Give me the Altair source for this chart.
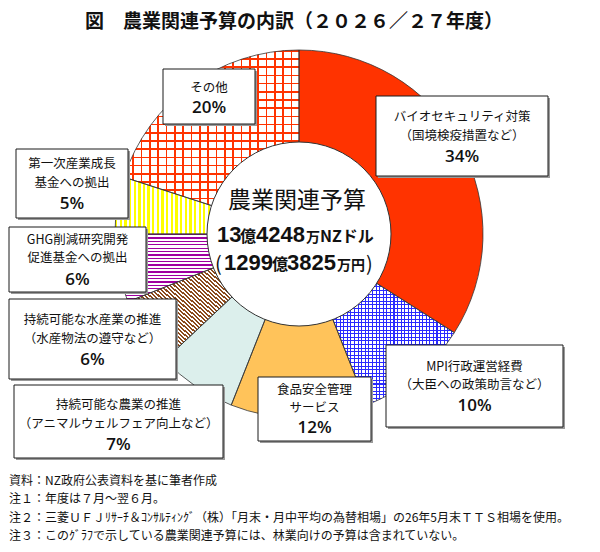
import math
import altair as alt
import pandas as pd

# ---------------- data ----------------
categories = [
    "バイオセキュリティ対策",
    "MPI行政運営経費",
    "食品安全管理サービス",
    "持続可能な農業の推進",
    "持続可能な水産業の推進",
    "GHG削減研究開発促進基金への拠出",
    "第一次産業成長基金への拠出",
    "その他",
]
percents = [34, 10, 12, 7, 6, 6, 5, 20]
label_lines = [
    ["バイオセキュリティ対策", "（国境検疫措置など）"],
    ["MPI行政運営経費", "（大臣への政策助言など）"],
    ["食品安全管理", "サービス"],
    ["持続可能な農業の推進", "（アニマルウェルフェア向上など）"],
    ["持続可能な水産業の推進", "（水産物法の遵守など）"],
    ["GHG削減研究開発", "促進基金への拠出"],
    ["第一次産業成長", "基金への拠出"],
    ["その他"],
]
title_text = "図　農業関連予算の内訳（２０２６／２７年度）"
center_title = "農業関連予算"
center_line2 = ["13", "億", "4248", "万", "NZドル"]
center_line3 = ["(", "1299", "億", "3825", "万円", ")"]
notes = [
    "資料：NZ政府公表資料を基に筆者作成",
    "注１：年度は７月～翌６月。",
    "注２：三菱ＵＦＪﾘｻｰﾁ＆ｺﾝｻﾙﾃｨﾝｸﾞ（株）「月末・月中平均の為替相場」の26年5月末ＴＴＳ相場を使用。",
    "注３：このｸﾞﾗﾌで示している農業関連予算には、林業向けの予算は含まれていない。",
]

# ---------------- layout (page pixel coordinates) ----------------
CX, CY = 299, 234
R_OUT, R_IN = 184, 91
boxes = [  # x, y, x2, y2
    (376, 96, 548, 176),
    (386, 345, 563, 427),
    (258, 377, 371, 441),
    (14, 385, 223, 458),
    (9, 299, 176, 379),
    (9, 227, 146, 292),
    (16, 149, 128, 218),
    (163, 69, 255, 124),
]
line_ys = [
    [117, 136, 157],
    [367, 385, 406],
    [390, 408, 428],
    [405, 424, 445],
    [320, 339, 360],
    [240, 258, 280],
    [164, 183, 204],
    [88, 108],
]
line2_x = [217, 240, 256, 306, 320]
line2_size = [22, 16, 22, 14, 16]
line3_x = [215, 224, 272, 287, 337, 366]
line3_size = [20, 22, 16, 22, 14, 20]
note_ys = [481, 499, 518, 536]

base_colors = ["#FF3300", "#FFFFFF", "#FFC35A", "#DCEFEC", "#FFFFFF", "#FFFFFF", "#FFFFFF", "#FFFFFF"]

W, H = 584, 536
XS = alt.Scale(domain=[8, 8 + W], nice=False, zero=False)
YS = alt.Scale(domain=[8, 8 + H], nice=False, zero=False, reverse=True)

# ---------------- tables ----------------
starts, ends, acc = [], [], 0
for p in percents:
    starts.append(acc)
    acc += p
    ends.append(acc)
slices = pd.DataFrame({"cat": categories, "pct": percents, "start": starts, "end": ends})

box_df = pd.DataFrame({
    "cat": categories,
    "x": [b[0] for b in boxes], "y": [b[1] for b in boxes],
    "x2": [b[2] for b in boxes], "y2": [b[3] for b in boxes],
})
box_df["sx"] = box_df["x"] + 2
box_df["sy"] = box_df["y"] + 2
box_df["sx2"] = box_df["x2"] + 2
box_df["sy2"] = box_df["y2"] + 2

lab_rows, pct_rows = [], []
for i, cat in enumerate(categories):
    cx = (boxes[i][0] + boxes[i][2]) / 2
    for j, t in enumerate(label_lines[i]):
        lab_rows.append({"x": cx, "y": line_ys[i][j], "t": t})
    pct_rows.append({"x": cx, "y": line_ys[i][-1], "t": f"{percents[i]}%"})
lab_df = pd.DataFrame(lab_rows)
pct_df = pd.DataFrame(pct_rows)

seg_rows = []
for t, x, s in zip(center_line2, line2_x, line2_size):
    seg_rows.append({"t": t, "x": x, "y": 242, "s": s})
for t, x, s in zip(center_line3, line3_x, line3_size):
    seg_rows.append({"t": t, "x": x, "y": 270, "s": s})
seg_df = pd.DataFrame(seg_rows)
digits_df = seg_df[seg_df["t"].str.match(r"^[0-9]+$")]
kanji_df = seg_df[~seg_df["t"].str.match(r"^[0-9()]+$")]
paren_df = seg_df[seg_df["t"].isin(["(", ")"])]

note_df = pd.DataFrame({"t": notes, "x": [9] * len(notes), "y": note_ys})

# ---------------- pattern helpers ----------------
CLEAR = "rgba(255,255,255,0)"


def stripes(color, n, frac, x1=0, y1=0, x2=1, y2=0):
    stops = []
    for i in range(n):
        a = i / n
        b = (i + frac) / n
        c = (i + 1) / n
        stops += [
            alt.GradientStop(offset=a, color=color),
            alt.GradientStop(offset=b, color=color),
            alt.GradientStop(offset=b, color=CLEAR),
            alt.GradientStop(offset=c, color=CLEAR),
        ]
    return alt.LinearGradient(gradient="linear", stops=stops, x1=x1, y1=y1, x2=x2, y2=y2)


theta = alt.Theta("start:Q", scale=alt.Scale(domain=[0, 100], range=[0, 2 * math.pi]), stack=None)
theta2 = alt.Theta2("end:Q")
pos = dict(x=alt.value(CX - 8), y=alt.value(CY - 8))

base = alt.Chart(slices).mark_arc(innerRadius=R_IN, outerRadius=R_OUT).encode(
    theta=theta, theta2=theta2,
    color=alt.Color("cat:N", scale=alt.Scale(domain=categories, range=base_colors), legend=None),
    **pos,
)


def pattern_layer(cat, grad):
    return alt.Chart(slices).transform_filter(alt.datum.cat == cat).mark_arc(
        innerRadius=R_IN, outerRadius=R_OUT, fill=grad
    ).encode(theta=theta, theta2=theta2, **pos)


patterns = [
    # MPI: blue grid
    pattern_layer(categories[1], stripes("#2a2aff", 34, 0.3)),
    pattern_layer(categories[1], stripes("#2a2aff", 34, 0.3, 0, 0, 0, 1)),
    # aquaculture: brown diagonal
    pattern_layer(categories[4], stripes("#8a4a1c", 46, 0.5, 1, 0, 0, 1)),
    # GHG: purple zigzag (approx. horizontal bands)
    pattern_layer(categories[5], stripes("#a000a0", 20, 0.38, 0, 0, 0, 1)),
    # primary growth fund: yellow vertical lines
    pattern_layer(categories[6], stripes("#FFFF00", 21, 0.5)),
    # other: red grid
    pattern_layer(categories[7], stripes("#FF3300", 21, 0.2)),
    pattern_layer(categories[7], stripes("#FF3300", 19, 0.2, 0, 0, 0, 1)),
]

outline = alt.Chart(slices).mark_arc(
    innerRadius=R_IN, outerRadius=R_OUT, fillOpacity=0, stroke="#333333", strokeWidth=0.8
).encode(theta=theta, theta2=theta2, **pos)

hole = alt.Chart(pd.DataFrame({"k": [0]})).mark_arc(
    innerRadius=0, outerRadius=R_IN + 1, theta=0, theta2=2 * math.pi,
    fill="white", stroke="#333333", strokeWidth=1,
).encode(**pos)

shadow = alt.Chart(box_df).mark_rect(fill="#9a9a9a").encode(
    x=alt.X("sx:Q", scale=XS, axis=None), x2="sx2:Q",
    y=alt.Y("sy:Q", scale=YS, axis=None), y2="sy2:Q",
)
rects = alt.Chart(box_df).mark_rect(fill="white", stroke="#1a1a1a", strokeWidth=1).encode(
    x=alt.X("x:Q", scale=XS, axis=None), x2="x2:Q",
    y=alt.Y("y:Q", scale=YS, axis=None), y2="y2:Q",
)

labels = alt.Chart(lab_df).mark_text(
    font="Noto Sans CJK JP", fontSize=12.5, color="#111111", align="center", baseline="middle"
).encode(x=alt.X("x:Q", scale=XS, axis=None), y=alt.Y("y:Q", scale=YS, axis=None), text="t:N")

pcts = alt.Chart(pct_df).mark_text(
    font="Open Sans", fontSize=17, fontWeight=600, color="#111111", align="center", baseline="middle"
).encode(x=alt.X("x:Q", scale=XS, axis=None), y=alt.Y("y:Q", scale=YS, axis=None), text="t:N")

ctitle = alt.Chart(pd.DataFrame({"t": [center_title]})).mark_text(
    font="Noto Sans CJK JP", fontSize=23, color="#111111", align="center", baseline="middle"
).encode(x=alt.value(297 - 8), y=alt.value(201 - 8), text="t:N")

cdigits = alt.Chart(digits_df).mark_text(
    font="Liberation Sans", fontWeight="bold", color="#111111", align="left", baseline="alphabetic"
).encode(x=alt.X("x:Q", scale=XS, axis=None), y=alt.Y("y:Q", scale=YS, axis=None),
         text="t:N", size=alt.Size("s:Q", scale=None))

ckanji = alt.Chart(kanji_df).mark_text(
    font="Noto Sans CJK JP", fontWeight="bold", color="#111111", align="left", baseline="alphabetic"
).encode(x=alt.X("x:Q", scale=XS, axis=None), y=alt.Y("y:Q", scale=YS, axis=None),
         text="t:N", size=alt.Size("s:Q", scale=None))

cparen = alt.Chart(paren_df).mark_text(
    font="Noto Sans CJK JP", color="#111111", align="left", baseline="alphabetic", dy=1
).encode(x=alt.X("x:Q", scale=XS, axis=None), y=alt.Y("y:Q", scale=YS, axis=None),
         text="t:N", size=alt.Size("s:Q", scale=None))

title = alt.Chart(pd.DataFrame({"t": [title_text]})).mark_text(
    font="Noto Sans CJK JP", fontSize=19, fontWeight="bold", color="#111111",
    align="center", baseline="middle"
).encode(x=alt.value(294 - 8), y=alt.value(22 - 8), text="t:N")

note_text = alt.Chart(note_df).mark_text(
    font="Noto Sans CJK JP", fontSize=12, color="#111111", align="left", baseline="middle"
).encode(x=alt.X("x:Q", scale=XS, axis=None), y=alt.Y("y:Q", scale=YS, axis=None), text="t:N")

chart = alt.layer(
    base, *patterns, outline, hole,
    shadow, rects, labels, pcts,
    ctitle, cdigits, ckanji, cparen, title, note_text,
).properties(
    width=W, height=H, padding=0, autosize=alt.AutoSizeParams(type="none"), background="white"
).configure_view(stroke=None)

chart.save("out.html", embed_options={"renderer": "svg", "actions": False})
